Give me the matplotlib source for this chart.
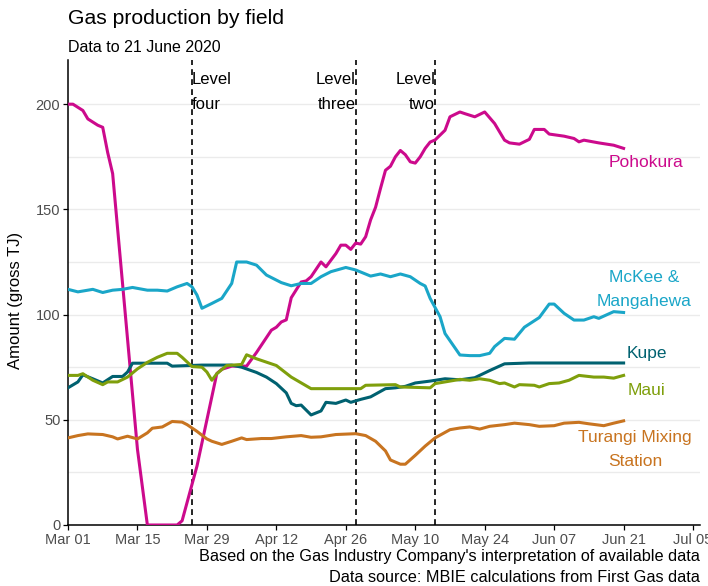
import pandas as pd
import matplotlib.pyplot as plt
import matplotlib.dates as mdates

plt.rcParams['font.family'] = ['Liberation Sans', 'DejaVu Sans']

start = pd.Timestamp('2020-03-01')

# Daily production, (days since 1 March, gross TJ)
pohokura_days = [0, 1, 3, 4, 6, 7, 8, 9, 14, 16, 22, 23, 26, 30, 31, 33, 36, 38, 41, 42, 43, 44,
                 45, 47, 48, 49, 51, 52, 54, 55, 56, 57, 58, 59, 60, 61, 62, 63, 64, 65, 66, 67,
                 68, 69, 70, 71, 72, 73, 74, 76, 77, 79, 80, 82, 84, 86, 88, 89, 91, 93, 94, 96,
                 97, 100, 102, 103, 104, 107, 110, 112]
pohokura = [200, 200, 197, 193, 190, 189, 177, 167, 36, 0, 0, 2, 28, 72, 74, 75.5, 75.5, 82, 92.6,
            94, 96.5, 97.5, 108, 115.5, 116, 118, 125, 122.7, 129, 133, 133, 131, 134, 133.5, 137,
            145, 151, 160, 168.6, 170.5, 175, 178, 176, 172.6, 172, 175, 179, 182, 183, 187.6, 194,
            196.3, 195.5, 194, 196.3, 190.8, 182.9, 181.6, 181, 183.3, 188, 188, 185.8, 184.8,
            183.7, 182.1, 182.9, 181.6, 180.5, 179]

mckee_days = [0, 2, 3, 5, 7, 9, 11, 13, 16, 18, 20, 22, 24, 25, 26, 27, 29, 31, 33, 34, 36, 38,
              40, 43, 45, 47, 49, 51, 53, 56, 58, 61, 63, 65, 67, 69, 71, 72, 73, 75, 76, 79, 81,
              83, 85, 86, 88, 90, 92, 95, 97, 98, 100, 102, 104, 106, 107, 110, 112]
mckee = [112, 110.8, 111.2, 112, 110.5, 111.6, 112, 112.9, 111.6, 111.6, 111.2, 113.2, 114.8,
         113.2, 109.3, 103, 105.3, 107.7, 114.8, 125, 125, 123.5, 118.8, 115.2, 113.7, 114.8,
         114.8, 118, 120.4, 122.4, 121.2, 118.3, 119.3, 118, 119.3, 118, 114.8, 113.6, 107.7, 99,
         91, 80.8, 80.5, 80.5, 81.6, 84.8, 88.7, 88.3, 94, 98.6, 105, 105, 100.6, 97.4, 97.4, 99,
         98.2, 101.4, 101]

kupe_days = [0, 2, 3, 5, 7, 9, 11, 12, 13, 20, 21, 27, 33, 35, 38, 40, 42, 44, 45, 46, 47, 49,
             51, 52, 54, 56, 57, 59, 61, 64, 66, 68, 70, 73, 76, 79, 82, 85, 88, 93, 112]
kupe = [65.2, 68, 71.4, 69.5, 67.5, 70.6, 70.6, 72.7, 76.9, 76.9, 75.5, 76, 76, 75, 72.5, 70.3,
        67.2, 62.8, 57.8, 56.7, 57, 52.3, 54.2, 58.3, 57.8, 59.4, 58.3, 59.7, 60.9, 64.8, 65.2,
        65.9, 67.5, 68.4, 69.5, 69, 70, 73.4, 76.6, 77, 77]

maui_days = [0, 2, 3, 5, 7, 8, 10, 12, 14, 16, 18, 20, 22, 23, 25, 27, 28, 29, 30, 32, 35, 36,
             38, 42, 45, 49, 59, 60, 66, 67, 73, 74, 79, 81, 83, 85, 87, 88, 90, 91, 94, 95, 97,
             99, 101, 103, 106, 108, 110, 112]
maui = [71.1, 71.1, 71.9, 68.8, 66.7, 68, 68, 70.3, 74.2, 77.3, 79.7, 81.6, 81.6, 79.7, 75.3, 75,
        72.7, 68.8, 71.9, 75.8, 76.3, 80.9, 79, 75.8, 70.3, 64.8, 64.8, 66.4, 66.7, 65.6, 65.2,
        67.2, 69.2, 68.8, 69.5, 68.8, 67.2, 67.5, 65.6, 66.7, 66.4, 65.6, 67.2, 67.5, 68.8, 71.1,
        70.3, 70.3, 69.8, 71.1]

turangi_days = [0, 2, 4, 7, 9, 10, 12, 14, 16, 17, 19, 21, 23, 24, 26, 28, 29, 31, 33, 35, 36,
                39, 41, 44, 47, 49, 51, 54, 58, 60, 62, 64, 65, 67, 68, 70, 72, 74, 77, 79, 81,
                83, 85, 88, 90, 93, 95, 98, 100, 103, 105, 108, 110, 112]
turangi = [41.4, 42.5, 43.3, 43, 41.9, 40.9, 42.2, 40.9, 43.8, 46, 46.6, 49.2, 48.9, 47.7, 44.5,
           40.9, 39.8, 38.3, 39.8, 41.4, 40.6, 41.1, 41.1, 41.9, 42.5, 41.7, 41.9, 43, 43.4, 42.5,
           39.8, 35.2, 30.9, 28.9, 28.9, 33.1, 37.5, 41.4, 45.3, 46.1, 46.6, 45.6, 46.9, 47.7,
           48.4, 47.7, 46.9, 47.2, 48.4, 48.8, 48.1, 47.2, 48.4, 49.5]

# Alert level changes
level_dates = ['2020-03-26', '2020-04-28', '2020-05-14']
level_names = ['Level\nfour', 'Level\nthree', 'Level\ntwo']


def to_dates(days):
    return start + pd.to_timedelta(days, unit='D')


series = [
    (pohokura_days, pohokura, '#CC0A8C', 'Pohokura', 116.5, 172.4),
    (mckee_days, mckee, '#1AA6C8', 'McKee &\nMangahewa', 116.1, 112),
    (kupe_days, kupe, '#006170', 'Kupe', 116.7, 81.7),
    (maui_days, maui, '#7F9F0C', 'Maui', 116.7, 64.1),
    (turangi_days, turangi, '#C87420', 'Turangi Mixing\nStation', 114.3, 35.9),
]

fig = plt.figure(figsize=(7.08, 5.86), dpi=100)
ax = fig.add_axes([68 / 708, 61 / 586, 632 / 708, 465 / 586])

for days, values, color, name, lx, ly in series:
    ax.plot(to_dates(days), values, color=color, linewidth=2.2, solid_joinstyle='round', zorder=3)
    ax.text(start + pd.Timedelta(days=lx), ly, name, color=color, fontsize=12.5,
            ha='center', va='center', linespacing=1.8, zorder=4)

for d, name in zip(level_dates, level_names):
    d = pd.Timestamp(d)
    ax.axvline(d, color='black', linestyle=(0, (3.5, 2.5)), linewidth=1.2, zorder=2)
    ha = 'left' if 'four' in name else 'right'
    ax.text(d, 205.8, name, ha=ha, va='center', fontsize=12, linespacing=1.85,
            multialignment=ha, zorder=4)

# axis runs a little past the last tick
ax.set_xlim(start, start + pd.Timedelta(days=127.4))
ax.set_ylim(0, 221)
ax.set_xticks(pd.date_range('2020-03-01', '2020-07-05', freq='14D'))
ax.xaxis.set_major_formatter(mdates.DateFormatter('%b %d'))
ax.set_yticks([0, 50, 100, 150, 200])
ax.set_yticks([25, 75, 125, 175], minor=True)
ax.grid(axis='y', which='both', color='#EBEBEB', linewidth=1.0, zorder=0)
ax.set_axisbelow(True)

for side in ['top', 'right']:
    ax.spines[side].set_visible(False)
for side in ['left', 'bottom']:
    ax.spines[side].set_linewidth(1.1)
ax.tick_params(axis='both', which='major', length=3.5, width=0.9, colors='black',
               labelcolor='#4D4D4D', labelsize=10.5, pad=2)
ax.tick_params(axis='y', which='minor', length=0)

fig.text(16 / 708, 1 - 300 / 586, 'Amount (gross TJ)', rotation=90, ha='center', va='center',
         fontsize=12)
fig.text(68 / 708, 1 - 18 / 586, 'Gas production by field', fontsize=15.2, ha='left', va='center')
fig.text(68 / 708, 1 - 47 / 586, 'Data to 21 June 2020', fontsize=11.5, ha='left', va='center')
fig.text(700 / 708, 1 - 557 / 586,
         "Based on the Gas Industry Company's interpretation of available data",
         fontsize=11.7, ha='right', va='center')
fig.text(700 / 708, 1 - 577 / 586, 'Data source: MBIE calculations from First Gas data',
         fontsize=11.7, ha='right', va='center')

fig.savefig('out.png', dpi=100)
